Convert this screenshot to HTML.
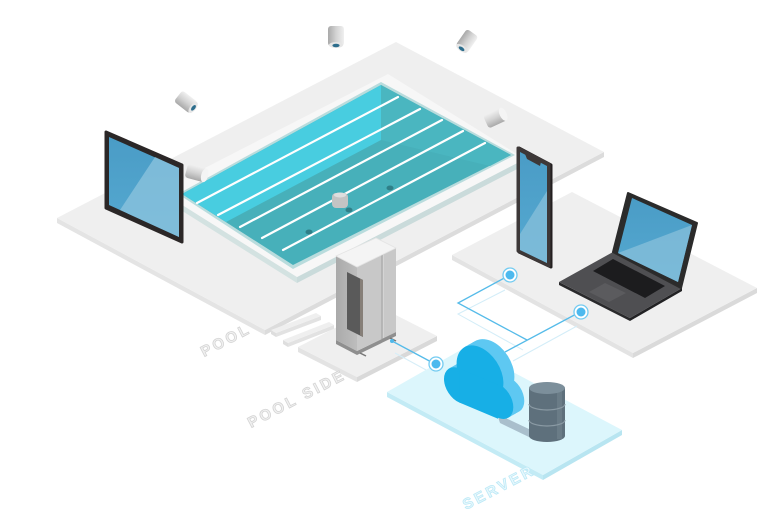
<!DOCTYPE html>
<html><head><meta charset="utf-8">
<style>html,body{margin:0;padding:0;background:#fff;}svg{display:block}</style>
</head>
<body>
<svg width="774" height="527" viewBox="0 0 774 527" xmlns="http://www.w3.org/2000/svg" xmlns:xlink="http://www.w3.org/1999/xlink">
<defs>
 <linearGradient id="scr" x1="0" y1="0" x2="0" y2="1"><stop offset="0" stop-color="#4a9cc6"/><stop offset="1" stop-color="#55a9d1"/></linearGradient>
 <linearGradient id="cam" x1="0" y1="0" x2="0" y2="1"><stop offset="0" stop-color="#f0f0f0"/><stop offset="0.5" stop-color="#d2d2d2"/><stop offset="1" stop-color="#a9a9a9"/></linearGradient>
 <linearGradient id="twl" x1="0" y1="0" x2="1" y2="0"><stop offset="0" stop-color="#aaaaaa"/><stop offset="1" stop-color="#bdbdbd"/></linearGradient>
 <g id="cloud"><circle cx="17" cy="-17" r="17"/><circle cx="60" cy="-18" r="17"/><circle cx="40" cy="-38" r="26"/><rect x="17" y="-34" width="43" height="34"/></g>
</defs>

<!-- Pool slab -->
<polygon points="57,218 265,330 265,335 57,223" fill="#e4e4e4"/>
<polygon points="265,330 604,152 604,157 265,335" fill="#dcdcdc"/>
<polygon points="396,42 604,152 265,330 57,218" fill="#efefef"/>

<!-- Rim -->
<polygon points="160,191 297,277 297,283 160,197" fill="#d3e2e1"/>
<polygon points="297,277 525,159 525,165 297,283" fill="#cadbdb"/>
<polygon points="388,74 525,159 297,277 160,191" fill="#f7f7f7"/>
<!-- lip -->
<polygon points="381,82 515,155 293,269 178,194" fill="#b9dcdd"/>
<!-- water -->
<polygon points="381,85 511,155 293,265 182,194" fill="#47b0ba"/>
<polygon points="381,85 182,194 226,222 381,140" fill="#48cde0"/>
<polygon points="381,85 511,155 490,166 381,140" fill="#4ab6c0"/>
<!-- lanes -->
<g stroke="#ffffff" stroke-width="2.2" stroke-linecap="round">
 <line x1="398" y1="97" x2="197" y2="203"/>
 <line x1="420" y1="109" x2="218" y2="215"/>
 <line x1="442" y1="120" x2="240" y2="227"/>
 <line x1="463" y1="131" x2="262" y2="238"/>
 <line x1="485" y1="143" x2="283" y2="250"/>
</g>
<!-- underwater spots -->
<ellipse cx="390" cy="188" rx="3.5" ry="2.5" fill="#2f7f88"/>
<ellipse cx="349" cy="210" rx="3.5" ry="2.5" fill="#2f7f88"/>
<ellipse cx="309" cy="232" rx="3.5" ry="2.5" fill="#2f7f88"/>
<!-- underwater camera -->
<g transform="translate(340,200)">
 <rect x="-8" y="-7" width="16" height="15" rx="4" fill="#c4c4c4"/>
 <ellipse cx="0" cy="-5" rx="6" ry="2.5" fill="#dedede"/>
</g>

<!-- Tablet -->
<polygon points="106,132 182,165 182,242 106,208" fill="#2b2727" stroke="#2b2727" stroke-width="3" stroke-linejoin="round"/>
<polygon points="109,137 179,168 179,237 109,205" fill="url(#scr)"/>
<polygon points="155,157 179,168 179,237 120,210" fill="#8ec4de" opacity="0.75"/>

<!-- Floating cameras -->
<g transform="translate(336,36) rotate(90)">
 <rect x="-10" y="-8" width="20" height="16" rx="3" fill="url(#cam)"/>
 <ellipse cx="9" cy="0" rx="3" ry="7" fill="#e6e6e6"/>
 <ellipse cx="9.5" cy="0" rx="1.7" ry="3.6" fill="#2d6d8c"/>
</g>
<g transform="translate(467,41) rotate(125)">
 <rect x="-10" y="-7" width="20" height="14" rx="3" fill="url(#cam)"/>
 <ellipse cx="9" cy="0" rx="3" ry="6.5" fill="#e6e6e6"/>
 <ellipse cx="9.5" cy="0" rx="1.7" ry="3.3" fill="#2d6d8c"/>
</g>
<g transform="translate(186,102) rotate(38)">
 <rect x="-10" y="-7" width="20" height="14" rx="3" fill="url(#cam)"/>
 <ellipse cx="9" cy="0" rx="3" ry="6.5" fill="#e6e6e6"/>
 <ellipse cx="9.5" cy="0" rx="1.7" ry="3.3" fill="#2d6d8c"/>
</g>
<g transform="translate(495,118) rotate(-25)">
 <rect x="-10" y="-7" width="20" height="14" rx="3" fill="url(#cam)"/>
 <ellipse cx="9" cy="0" rx="3.5" ry="7" fill="#f4f4f4"/>
</g>
<g transform="translate(196,173) rotate(15)">
 <rect x="-10" y="-7" width="20" height="14" rx="3" fill="url(#cam)"/>
 <ellipse cx="9" cy="0" rx="3.5" ry="7" fill="#f4f4f4"/>
</g>

<!-- Laptop slab -->
<polygon points="452,255 633,353 633,358 452,260" fill="#e3e3e3"/>
<polygon points="633,353 757,288 757,293 633,358" fill="#dadada"/>
<polygon points="572,192 757,288 633,353 452,255" fill="#efefef"/>

<!-- Phone -->
<polygon points="519,148 551,165 551,267 519,252" fill="#231f20" stroke="#231f20" stroke-width="3" stroke-linejoin="round"/>
<polygon points="518,148 549,164 549,266 518,251" fill="#3d3838" stroke="#3d3838" stroke-width="3" stroke-linejoin="round"/>
<polygon points="520,152 547,166 547,263 520,250" fill="url(#scr)"/>
<polygon points="520,234 547,191 547,263 520,250" fill="#8cc2dc" opacity="0.7"/>
<polygon points="525,154 541,162 540,166 527,159" fill="#3d3838"/>

<!-- Laptop -->
<polygon points="559,282 630,318 630,321 559,285" fill="#2a2a2c"/>
<polygon points="630,318 682,288 682,291 630,321" fill="#222224"/>
<polygon points="559,282 613,252 682,288 630,318" fill="#4f4f52"/>
<polygon points="593,271 613,259 665,286 645,298" fill="#1c1c1e"/>
<polygon points="605,283 626,293 609,302 589,292" fill="#5b5b5e"/>
<polygon points="628,193 697,223 681,288 613,252" fill="#2b2b2b" stroke="#2b2b2b" stroke-width="2" stroke-linejoin="round"/>
<polygon points="632,198 692,225 678,282 618,253" fill="url(#scr)"/>
<polygon points="618,253 692,225 678,282" fill="#8cc2dc" opacity="0.7"/>

<!-- Steps -->
<polygon points="271,330 276,333 276,337 271,334" fill="#dedede"/>
<polygon points="276,333 321,316 321,320 276,337" fill="#e2e2e2"/>
<polygon points="271,330 316,313 321,316 276,333" fill="#efefef"/>
<polygon points="283,340 288,343 288,347 283,344" fill="#dedede"/>
<polygon points="288,343 334,325 334,329 288,347" fill="#e2e2e2"/>
<polygon points="283,340 329,322 334,325 288,343" fill="#efefef"/>

<!-- Pool side slab -->
<polygon points="298,347 357,377 357,382 298,352" fill="#e3e3e3"/>
<polygon points="357,377 437,336 437,341 357,382" fill="#d9d9d9"/>
<polygon points="378,306 437,336 357,377 298,347" fill="#efefef"/>
<!-- faint line on pool side -->
<line x1="395" y1="353" x2="428" y2="371" stroke="#d6eef8" stroke-width="1"/>

<!-- Tower -->
<polygon points="336,340 357,351 396,332 396,336 357,355 336,344" fill="#8f8f8f"/>
<polygon points="336,256 357,267 357,351 336,340" fill="url(#twl)"/>
<polygon points="357,267 396,248 396,332 357,351" fill="#c8c8c8"/>
<line x1="382" y1="255" x2="382" y2="339" stroke="#a6a6a6" stroke-width="1.2"/>
<line x1="383.3" y1="255" x2="383.3" y2="338" stroke="#dadada" stroke-width="0.8"/>
<polygon points="347,272 363,280 363,337 347,329" fill="#5a5a5a"/>
<polygon points="360,279 363,280 363,337 360,335" fill="#867f78"/>
<polygon points="336,256 376,238 396,248 357,267" fill="#f4f4f4" stroke="#e4e4e4" stroke-width="0.8"/>
<line x1="360" y1="353" x2="366" y2="356" stroke="#777" stroke-width="1.5"/>
<line x1="390" y1="338" x2="396" y2="341" stroke="#777" stroke-width="1.5"/>

<!-- Server slab -->
<polygon points="387,392 543,475 543,480 387,397" fill="#c3ebf5"/>
<polygon points="543,475 622,430 622,435 543,480" fill="#b8e5f1"/>
<polygon points="466,347 622,430 543,475 387,392" fill="#dcf6fc"/>

<!-- Connection lines -->
<g fill="none" stroke="#d3edf8" stroke-width="1">
 <polyline points="505,290 458,314 523,350"/>
 <line x1="577" y1="326" x2="513" y2="361"/>
</g>
<g fill="none" stroke="#55bbe9" stroke-width="1.3">
 <polyline points="510,275 458,303 527,340"/>
 <line x1="580" y1="312" x2="505" y2="352"/>
 <line x1="392" y1="341" x2="435" y2="364"/>
</g>
<circle cx="392" cy="341" r="2" fill="#4fb8ea"/>
<g>
 <circle cx="510" cy="275" r="7" fill="#ffffff" stroke="#73cbf1" stroke-width="1.3"/>
 <circle cx="510" cy="275" r="4.5" fill="#4db9ee"/>
 <circle cx="581" cy="312" r="7" fill="#ffffff" stroke="#73cbf1" stroke-width="1.3"/>
 <circle cx="581" cy="312" r="4.5" fill="#4db9ee"/>
 <circle cx="436" cy="364" r="7" fill="#ffffff" stroke="#73cbf1" stroke-width="1.3"/>
 <circle cx="436" cy="364" r="4.5" fill="#4db9ee"/>
</g>

<!-- Cloud shadow -->
<polygon points="497,414 531,430 531,438 500,423" fill="#a9bfcc"/>

<!-- Cloud -->
<g fill="#5ec8f2">
 <use xlink:href="#cloud" href="#cloud" transform="translate(11,-6.3) matrix(0.9,0.38,0,1,444,396)"/>
 <use xlink:href="#cloud" href="#cloud" transform="translate(9.5,-5.4) matrix(0.9,0.38,0,1,444,396)"/>
 <use xlink:href="#cloud" href="#cloud" transform="translate(8,-4.6) matrix(0.9,0.38,0,1,444,396)"/>
 <use xlink:href="#cloud" href="#cloud" transform="translate(6.5,-3.7) matrix(0.9,0.38,0,1,444,396)"/>
 <use xlink:href="#cloud" href="#cloud" transform="translate(5,-2.9) matrix(0.9,0.38,0,1,444,396)"/>
 <use xlink:href="#cloud" href="#cloud" transform="translate(3.5,-2) matrix(0.9,0.38,0,1,444,396)"/>
 <use xlink:href="#cloud" href="#cloud" transform="translate(2,-1.2) matrix(0.9,0.38,0,1,444,396)"/>
 <use xlink:href="#cloud" href="#cloud" transform="translate(1,-0.6) matrix(0.9,0.38,0,1,444,396)"/>
</g>
<use xlink:href="#cloud" href="#cloud" fill="#17afe6" transform="matrix(0.9,0.38,0,1,444,396)"/>

<!-- Database -->
<rect x="529" y="388" width="36" height="48" fill="#5e707c"/>
<ellipse cx="547" cy="436" rx="18" ry="6" fill="#5e707c"/>
<rect x="557" y="390" width="5" height="49" fill="#6a7c87"/>
<path d="M529 404 A18 6 0 0 0 565 404" fill="none" stroke="#8a9aa4" stroke-width="1.2"/>
<path d="M529 420 A18 6 0 0 0 565 420" fill="none" stroke="#8a9aa4" stroke-width="1.2"/>
<ellipse cx="547" cy="388" rx="18" ry="6" fill="#7c8f9b"/>

<!-- Labels -->
<g font-family="'Liberation Sans', Arial, sans-serif" font-weight="bold" font-size="15" letter-spacing="3" stroke-width="0.8">
 <text transform="translate(204,357) rotate(-27.5)" fill="#f1f1f1" stroke="#d4d4d4">POOL</text>
 <text transform="translate(251,428) rotate(-27.5)" fill="#f1f1f1" stroke="#d4d4d4">POOL SIDE</text>
 <text transform="translate(466,510) rotate(-27.5)" fill="#e8f8fd" stroke="#bde9f6">SERVER</text>
</g>
</svg>
</body></html>
